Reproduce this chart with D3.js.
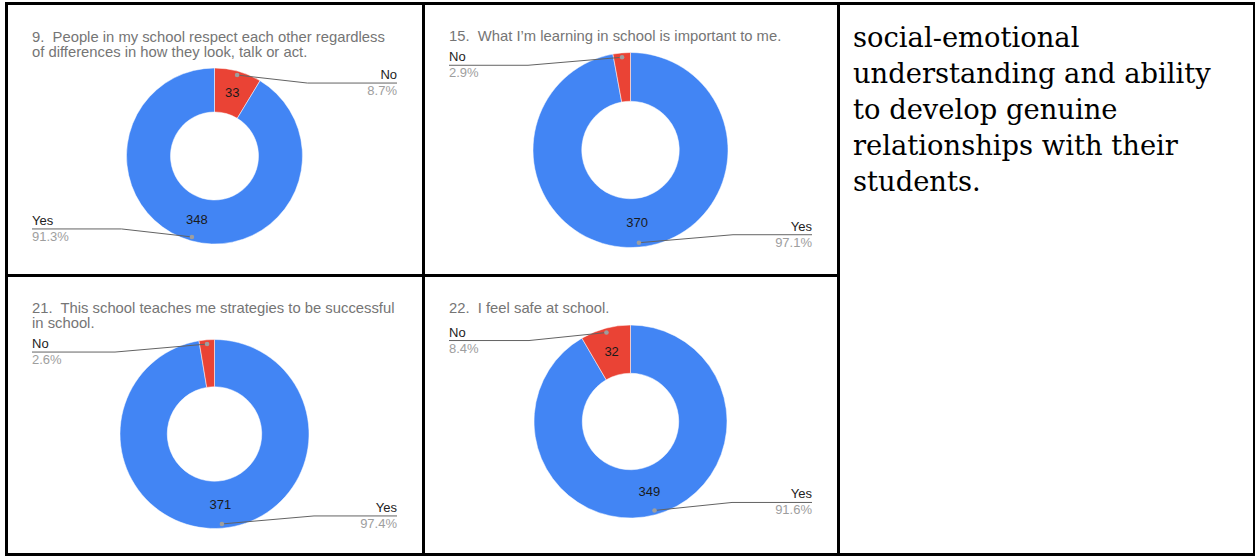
<!DOCTYPE html>
<html>
<head>
<meta charset="utf-8">
<script src="https://cdn.jsdelivr.net/npm/d3@7"></script>
<style>
  html, body { margin: 0; padding: 0; background: #fff; }
  svg { display: block; }
</style>
</head>
<body>
<svg id="chart" width="1255" height="556"></svg>
<script>
// ---------- data ----------
const titles = [
  ["9.  People in my school respect each other regardless", "of differences in how they look, talk or act."],
  ["15.  What I\u2019m learning in school is important to me."],
  ["21.  This school teaches me strategies to be successful", "in school."],
  ["22.  I feel safe at school."]
];
const categories = [
  ["No", "Yes"],
  ["Yes", "No"],
  ["Yes", "No"],
  ["Yes", "No"]
];
const values = [
  [33, 348],
  [370, 11],
  [371, 10],
  [349, 32]
];
const sideText = [
  "social-emotional",
  "understanding and ability",
  "to develop genuine",
  "relationships with their",
  "students."
];

// ---------- layout / style ----------
const colors = { Yes: "#4285f4", No: "#ea4335" };
const cells = [
  { x0: 8,   x1: 422, titleY: 42,  cx: 214.5, cy: 156,   r: 88 },
  { x0: 425, x1: 837, titleY: 41,  cx: 630.5, cy: 150,   r: 97.5 },
  { x0: 8,   x1: 422, titleY: 313, cx: 214.5, cy: 434,   r: 94.5 },
  { x0: 425, x1: 837, titleY: 313, cx: 630.5, cy: 421.5, r: 96.5 }
];

const svg = d3.select("#chart");
const FONT = "'Liberation Sans', Arial, sans-serif";

// table borders
const borderW = 3;
const vLines = [[6.5, 2, 556], [423.5, 2, 556], [838.5, 2, 556], [1254.5, 2, 556]];
const hLines = [[3.5, 5, 1255], [275.5, 5, 840], [554.5, 5, 1255]];
svg.selectAll("line.v").data(vLines).join("line").attr("class", "v")
  .attr("x1", d => d[0]).attr("x2", d => d[0]).attr("y1", d => d[1]).attr("y2", d => d[2])
  .attr("stroke", "#000").attr("stroke-width", borderW);
svg.selectAll("line.h").data(hLines).join("line").attr("class", "h")
  .attr("y1", d => d[0]).attr("y2", d => d[0]).attr("x1", d => d[1]).attr("x2", d => d[2])
  .attr("stroke", "#000").attr("stroke-width", borderW);

const pie = d3.pie().sort(null).value(d => d.value);

cells.forEach((c, i) => {
  const g = svg.append("g");
  const padL = 24, padR = 25;
  // title
  g.selectAll("text.title").data(titles[i]).join("text")
    .attr("class", "title")
    .attr("x", c.x0 + padL)
    .attr("y", (d, j) => c.titleY + j * 15)
    .style("white-space", "pre")
    .attr("font-family", FONT).attr("font-size", 14.8).attr("fill", "#757575")
    .text(d => d);

  const total = d3.sum(values[i]);
  const data = categories[i].map((k, j) => ({ key: k, value: values[i][j] }));
  const arcs = pie(data);
  const rIn = c.r * 0.5;
  const arc = d3.arc().innerRadius(rIn).outerRadius(c.r);
  const gp = g.append("g").attr("transform", `translate(${c.cx},${c.cy})`);
  gp.selectAll("path").data(arcs).join("path")
    .attr("d", arc).attr("fill", d => colors[d.data.key])
    .attr("stroke", "#fff").attr("stroke-width", 0.5);

  // slice value labels
  gp.selectAll("text.val").data(arcs.filter(a => a.data.value / total > 0.05)).join("text")
    .attr("class", "val")
    .attr("transform", d => `translate(${arc.centroid(d)})`)
    .attr("text-anchor", "middle").attr("dy", "0.35em")
    .attr("font-family", FONT).attr("font-size", 13).attr("fill", "#1a1a1a")
    .text(d => d.data.value);

  // leader lines + labels
  arcs.forEach(a => {
    const mid = (a.startAngle + a.endAngle) / 2;
    const rd = c.r * 0.955;
    const dx = c.cx + Math.sin(mid) * rd;
    const dy = c.cy - Math.cos(mid) * rd;
    const right = dx > c.cx;
    const ly = dy < c.cy ? dy + 8 : dy - 8;
    const ex = right ? c.cx + c.r + 5 : c.cx - c.r - 5;
    const tx = right ? c.x1 - padR : c.x0 + padL;
    g.append("polyline")
      .attr("points", `${dx},${dy} ${ex},${ly} ${tx},${ly}`)
      .attr("fill", "none").attr("stroke", "#636363").attr("stroke-width", 1);
    g.append("circle").attr("cx", dx).attr("cy", dy).attr("r", 2.3).attr("fill", "#9e9e9e");
    g.append("text").attr("x", tx).attr("y", ly - 4)
      .attr("text-anchor", right ? "end" : "start")
      .attr("font-family", FONT).attr("font-size", 13).attr("fill", "#222")
      .text(a.data.key);
    g.append("text").attr("x", tx).attr("y", ly + 12)
      .attr("text-anchor", right ? "end" : "start")
      .attr("font-family", FONT).attr("font-size", 13).attr("fill", "#9e9e9e")
      .text(d3.format(".1f")(a.data.value / total * 100) + "%");
  });
});

// right text cell
const st = svg.append("g");
const stText = st.selectAll("text").data(sideText).join("text")
  .attr("x", 853)
  .attr("y", (d, j) => 47 + j * 36)
  .attr("font-family", "'DejaVu Serif', 'Liberation Serif', serif")
  .attr("font-size", 26).attr("fill", "#000")
  .text(d => d);
// fit the widest line to reference width
const w = stText.filter((d, j) => j === 1).node().getComputedTextLength();
const fs = 26 * 358 / w;
stText.attr("font-size", fs);
</script>
</body>
</html>
